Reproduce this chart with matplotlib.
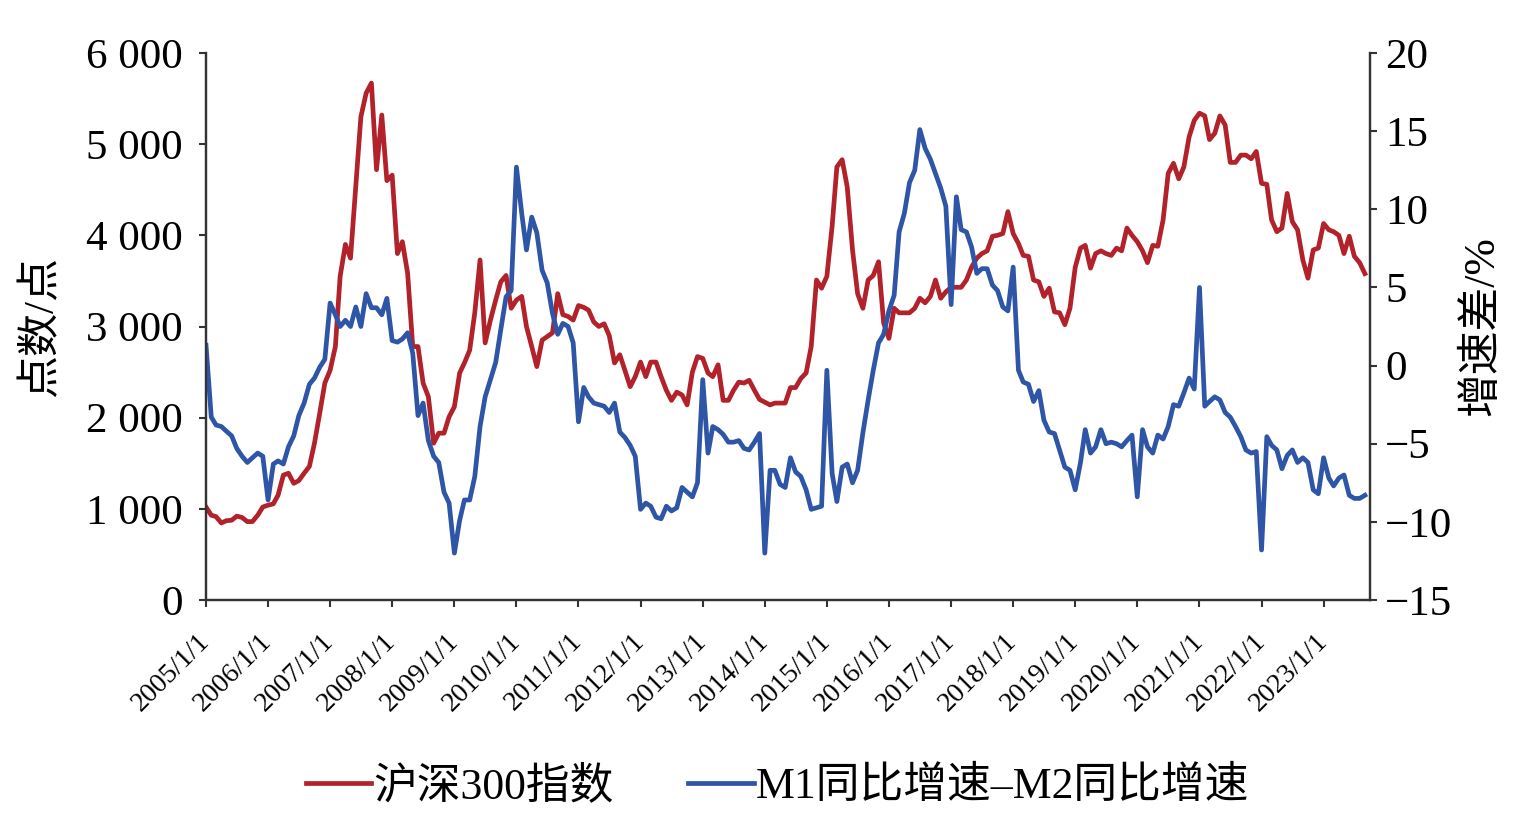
import numpy as np
import pandas as pd
import matplotlib
matplotlib.use("Agg")
import matplotlib.pyplot as plt
from matplotlib.ticker import FuncFormatter, MultipleLocator

plt.rcParams['font.family'] = ['Liberation Serif', 'Noto Sans CJK SC']
plt.rcParams['axes.unicode_minus'] = True

# --- data: monthly, 2005/1 .. 2023/9 ---
months = pd.date_range('2005-01-01', periods=225, freq='MS')

csi300 = [
    1020, 930, 915, 845, 870, 875, 920, 905, 860, 860, 930, 1020,      # 2005
    1040, 1055, 1150, 1370, 1390, 1280, 1310, 1390, 1465, 1720, 2050, 2380,  # 2006
    2520, 2780, 3550, 3900, 3750, 4530, 5300, 5560, 5670, 4720, 5320, 4600,  # 2007
    4660, 3800, 3930, 3585, 2780, 2780, 2380, 2230, 1720, 1830, 1830, 2010,  # 2008
    2120, 2490, 2600, 2740, 3150, 3730, 2820, 3070, 3290, 3490, 3560, 3200,  # 2009
    3290, 3330, 3000, 2780, 2560, 2850, 2890, 2930, 3360, 3130, 3110, 3070,  # 2010
    3230, 3210, 3180, 3050, 3000, 3030, 2900, 2600, 2690, 2520, 2340, 2450,  # 2011
    2610, 2450, 2610, 2610, 2450, 2300, 2190, 2280, 2250, 2140, 2500, 2670,  # 2012
    2650, 2490, 2450, 2580, 2190, 2190, 2300, 2390, 2380, 2410, 2300, 2200,  # 2013
    2170, 2140, 2160, 2160, 2160, 2330, 2330, 2430, 2490, 2780, 3510, 3420,  # 2014
    3550, 4100, 4750, 4830, 4530, 3840, 3360, 3200, 3510, 3560, 3710, 3040,  # 2015
    2870, 3200, 3150, 3150, 3150, 3200, 3310, 3260, 3330, 3510, 3310, 3380,  # 2016
    3430, 3430, 3430, 3510, 3650, 3750, 3800, 3830, 3990, 4000, 4020, 4260,  # 2017
    4020, 3910, 3780, 3770, 3510, 3490, 3330, 3420, 3160, 3150, 3020, 3200,  # 2018
    3650, 3860, 3890, 3640, 3800, 3830, 3800, 3780, 3860, 3830, 4080, 4000,  # 2019
    3930, 3830, 3700, 3890, 3880, 4170, 4680, 4790, 4620, 4750, 5080, 5260,  # 2020
    5340, 5310, 5050, 5120, 5310, 5210, 4800, 4800, 4880, 4880, 4840, 4920,  # 2021
    4570, 4560, 4170, 4040, 4080, 4460, 4150, 4060, 3730, 3530, 3840, 3860,  # 2022
    4130, 4060, 4040, 4000, 3800, 3990, 3770, 3700, 3580,                    # 2023
]

m1_m2_gap = [
    1.3, -3.3, -3.8, -3.9, -4.2, -4.5, -5.3, -5.8, -6.2, -5.9, -5.6, -5.8,
    -8.6, -6.3, -6.1, -6.3, -5.2, -4.5, -3.2, -2.4, -1.2, -0.8, -0.1, 0.4,
    4.0, 3.25, 2.5, 2.9, 2.5, 3.75, 2.5, 4.6, 3.7, 3.7, 3.25, 4.3,
    1.6, 1.5, 1.7, 2.1, 0.8, -3.2, -2.4, -4.8, -5.8, -6.2, -8.1, -8.8,
    -12.0, -9.9, -8.6, -8.6, -7.1, -3.9, -2.0, -0.9, 0.2, 2.3, 4.4, 4.8,
    12.7, 9.75, 7.4, 9.5, 8.5, 6.1, 5.3, 3.35, 2.0, 2.7, 2.5, 1.45,
    -3.6, -1.4, -2.0, -2.4, -2.5, -2.6, -3.0, -2.4, -4.25, -4.6, -5.1, -5.8,
    -9.2, -8.8, -9.0, -9.7, -9.8, -9.0, -9.3, -9.1, -7.8, -8.1, -8.4, -7.5,
    -0.9, -5.6, -3.9, -4.1, -4.4, -4.9, -4.9, -4.8, -5.3, -5.4, -4.9, -4.35,
    -12.0, -6.7, -6.7, -7.6, -7.8, -5.9, -6.8, -7.1, -7.95, -9.2, -9.1, -9.0,
    -0.3, -6.9, -8.7, -6.5, -6.3, -7.5, -6.7, -4.3, -2.2, -0.3, 1.45, 2.0,
    3.5, 4.5, 8.55, 9.75, 11.7, 12.5, 15.1, 13.9, 13.2, 12.3, 11.35, 10.2,
    3.9, 10.8, 8.7, 8.55, 7.6, 5.9, 6.2, 6.2, 5.15, 4.8, 3.75, 3.5,
    6.3, -0.3, -1.05, -1.2, -2.3, -1.6, -3.5, -4.25, -4.35, -5.4, -6.5, -6.7,
    -7.95, -6.2, -4.1, -5.6, -5.2, -4.1, -5.0, -4.9, -5.0, -5.2, -4.8, -4.45,
    -8.4, -4.1, -5.2, -5.6, -4.45, -4.7, -3.9, -2.5, -2.6, -1.75, -0.8, -1.5,
    5.0, -2.6, -2.3, -2.0, -2.2, -3.0, -3.3, -3.9, -4.55, -5.4, -5.6, -5.5,
    -11.8, -4.55, -5.1, -5.4, -6.6, -5.75, -5.4, -6.2, -5.9, -6.2, -7.95, -8.2,
    -5.9, -7.2, -7.7, -7.2, -7.0, -8.3, -8.5, -8.5, -8.3,
]

year_ticks = pd.date_range('2005-01-01', '2023-01-01', freq='YS')
year_labels = [f'{d.year}/1/1' for d in year_ticks]

red = '#B2222B'
blue = '#2E55A6'
axis_color = '#333333'

fig = plt.figure(figsize=(15.17, 8.18), dpi=100)
ax = fig.add_axes([0.1358, 0.2665, 0.7673, 0.6687])
ax2 = ax.twinx()

l1, = ax.plot(months, csi300, color=red, lw=3.4, label='沪深300指数')
l2, = ax2.plot(months, m1_m2_gap, color=blue, lw=3.4, label='M1同比增速–M2同比增速')

ax.set_xlim(months[0], pd.Timestamp('2023-10-01'))
ax.set_ylim(0, 6000)
ax2.set_ylim(-15, 20)
ax.yaxis.set_major_locator(MultipleLocator(1000))
ax2.yaxis.set_major_locator(MultipleLocator(5))
ax.yaxis.set_major_formatter(FuncFormatter(lambda v, p: f'{int(v):,}'.replace(',', ' ')))

ax.set_xticks(year_ticks)
ax.set_xticklabels(year_labels, rotation=45, ha='right', va='center',
                   rotation_mode='anchor', fontsize=20)

for a in (ax, ax2):
    a.spines['top'].set_visible(False)
    for s in ('left', 'right', 'bottom'):
        a.spines[s].set_color(axis_color)
        a.spines[s].set_linewidth(1.6)
    a.tick_params(direction='out', length=5, width=1.5, color=axis_color)

ax.tick_params(axis='y', labelsize=31, pad=12)
ax2.tick_params(axis='y', labelsize=31, pad=6)
ax.tick_params(axis='x', pad=22)

ax.set_ylabel('点数/点', fontsize=31)
ax.yaxis.set_label_coords(-0.124, 0.5)
ax2.set_ylabel('增速差/%', fontsize=31.5)
ax2.yaxis.set_label_coords(1.079, 0.5)

fig.legend(handles=[l1, l2], loc='center', bbox_to_anchor=(0.5125, 0.038),
           ncol=2, frameon=False, fontsize=31.5, handlelength=1.5,
           handletextpad=0.05, columnspacing=1.7)

fig.savefig('out.png', dpi=100)
